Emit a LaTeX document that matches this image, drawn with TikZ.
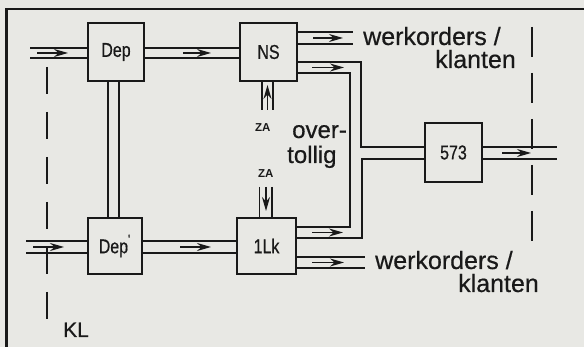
\documentclass[tikz,border=0pt]{standalone}
\usepackage{fontspec}
\setmainfont{Liberation Sans}
\newfontfamily\condfont[FakeStretch=0.8,FakeBold=0.6]{Liberation Sans}
\newfontfamily\heavyfont[FakeBold=0.5]{Liberation Sans}
\usetikzlibrary{arrows.meta,calc}
\definecolor{paper}{RGB}{232,232,228}
\definecolor{ink}{RGB}{25,25,25}
\tikzset{
  box/.style={draw=ink,line width=2pt,fill=paper,inner sep=0pt,font=\condfont\fontsize{20}{20}\selectfont,text=ink},
  ln/.style={draw=ink,line width=1.9pt},
  arr/.style={draw=ink,line width=1.3pt,-{Stealth[length=14pt,width=8pt]}},
  big/.style={font=\heavyfont\fontsize{25}{25}\selectfont,text=ink,inner sep=0pt},
  za/.style={font=\bfseries\fontsize{11.5}{11.5}\selectfont,text=ink,inner sep=0pt},
  kldash/.style={draw=ink,line width=1.9pt,dash pattern=on 27pt off 18pt},
  rdash/.style={draw=ink,line width=1.9pt,dash pattern=on 30pt off 16pt},
}
\begin{document}
\begin{tikzpicture}[x=1pt,y=-1pt]
\useasboundingbox (0,0) rectangle (584,347);
\fill[paper] (0,0) rectangle (584,347);
% frame
\draw[ink,line width=2.6pt] (6.5,347) -- (6.5,9) -- (584,9);
% boxes
\node[box,minimum width=56pt,minimum height=58pt] (dep) at (116,52) {Dep};
\node[box,minimum width=57pt,minimum height=58pt] (ns) at (268.5,52) {NS};
\node[box,minimum width=54pt,minimum height=56pt] (depp) at (114.5,246) {Dep\raisebox{9pt}{\fontsize{14}{14}\selectfont'}};
\node[box,minimum width=59pt,minimum height=56pt] (lk) at (266.5,246) {1Lk};
\node[box,minimum width=57pt,minimum height=59pt] (sfs) at (453.5,152.5) {573};
% free ends
\coordinate (inA) at (30,53);
\coordinate (inB) at (26,247);
\coordinate (outNS) at (353,38);
\coordinate (outLK) at (365,262.5);
\coordinate (out573) at (557,153);
% left inputs
\draw[ln] ($(inA)+(0,-5)$) -- ($(dep.west|-inA)+(0,-5)$);
\draw[ln] ($(inA)+(0,5)$) -- ($(dep.west|-inA)+(0,5)$);
\draw[ln] ($(inB)+(0,-6)$) -- ($(depp.west|-inB)+(0,-6)$);
\draw[ln] ($(inB)+(0,6)$) -- ($(depp.west|-inB)+(0,6)$);
% Dep -> NS, Dep' -> 1Lk
\draw[ln] ($(dep.east|-inA)+(0,-5)$) -- ($(ns.west|-inA)+(0,-5)$);
\draw[ln] ($(dep.east|-inA)+(0,5)$) -- ($(ns.west|-inA)+(0,5)$);
\draw[ln] ($(depp.east|-inB)+(0,-6)$) -- ($(lk.west|-inB)+(0,-6)$);
\draw[ln] ($(depp.east|-inB)+(0,6)$) -- ($(lk.west|-inB)+(0,6)$);
% Dep -- Dep'
\draw[ln] (108,0 |- dep.south) -- (108,0 |- depp.north);
\draw[ln] (119,0 |- dep.south) -- (119,0 |- depp.north);
% NS top output
\draw[ln] ($(ns.east|-outNS)+(0,-6)$) -- ($(outNS)+(0,-6)$);
\draw[ln] ($(ns.east|-outNS)+(0,6)$) -- ($(outNS)+(0,6)$);
% 1Lk bottom output
\draw[ln] ($(lk.east|-outLK)+(0,-5.5)$) -- ($(outLK)+(0,-5.5)$);
\draw[ln] ($(lk.east|-outLK)+(0,5.5)$) -- ($(outLK)+(0,5.5)$);
% merging channel to 573
\draw[ln] (ns.east|-0,62) -- (361,62) -- (361,147) -- (sfs.west|-0,147);
\draw[ln] (ns.east|-0,73) -- (350,73) -- (350,227) -- (lk.east|-0,227);
\draw[ln] (lk.east|-0,238) -- (362,238) -- (362,159) -- (sfs.west|-0,159);
% 573 output
\draw[ln] ($(sfs.east|-out573)+(0,-6)$) -- ($(out573)+(0,-6)$);
\draw[ln] ($(sfs.east|-out573)+(0,6)$) -- ($(out573)+(0,6)$);
% ZA channels
\coordinate (zaT) at (267.5,110);
\coordinate (zaB) at (266,187);
\draw[ln] (262,0 |- ns.south) -- (262,0 |- zaT);
\draw[ln] (273,0 |- ns.south) -- (273,0 |- zaT);
\draw[ln] (259.5,0 |- zaB) -- (259.5,0 |- lk.north);
\draw[ln] (272,0 |- zaB) -- (272,0 |- lk.north);
\draw[arr] (zaT) -- (267.5,85);
\draw[arr] (zaB) -- (266,211);
% flow arrows
\draw[arr] (37,53) -- (68,53);
\draw[arr] (183,53) -- (211,53);
\draw[arr] (313,38) -- (343,38);
\draw[arr] (312,67.5) -- (344,67.5);
\draw[arr] (502,153) -- (531,153);
\draw[arr] (33,247) -- (64,247);
\draw[arr] (180,247) -- (211,247);
\draw[arr] (312,232.5) -- (343,232.5);
\draw[arr] (312,262.5) -- (344,262.5);
% dashed boundary lines
\draw[kldash] (47,67) -- (47,333);
\draw[rdash] (532,27) -- (532,242);
% texts
\node[big,anchor=base west] (w1) at (363,45) {werkorders /};
\node[big,anchor=base east] (k1) at (516,68) {klanten};
\node[big,anchor=base west] (w2) at (375,269) {werkorders /};
\node[big,anchor=base east] (k2) at (539,292) {klanten};
\node[big,anchor=base west,font=\heavyfont\fontsize{24}{24}\selectfont] (ov) at (292,138) {over-};
\node[big,anchor=base west,font=\heavyfont\fontsize{24}{24}\selectfont] (tl) at (287,163) {tollig};
\node[za,anchor=base west] (za1) at (255,132) {ZA};
\node[za,anchor=base west] (za2) at (258,178) {ZA};
\node[big,anchor=base west,font=\heavyfont\fontsize{21}{21}\selectfont] (kl) at (63,337) {KL};
\end{tikzpicture}
\end{document}
